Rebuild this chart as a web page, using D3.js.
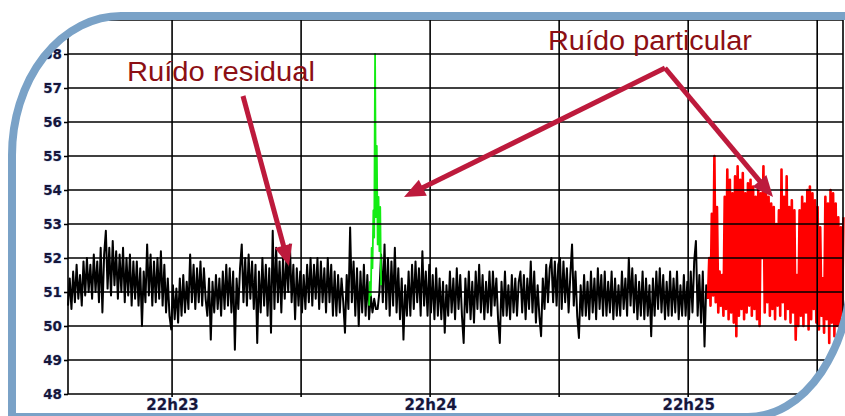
<!DOCTYPE html>
<html><head><meta charset="utf-8">
<script src="https://cdn.jsdelivr.net/npm/d3@7"></script>
<style>html,body{margin:0;padding:0;background:#fff;overflow:hidden}</style>
</head><body>
<svg id="chart" width="845" height="416"></svg>
<script>
// ---------- data ----------
const yTickValues = [48,49,50,51,52,53,54,55,56,57,58,59];
const xTickTimes  = ["22:23:00","22:24:00","22:25:00"];
const xTickLabels = ["22h23","22h24","22h25"];
const timeDomain  = ["22:22:35.8","22:25:36.0"];

// residual noise (black), one reading every 0.4 s
const residualStart = "22:22:35.8";
const residualStep = 0.4;
const residualValues = [
50.6,51.4,50.5,51.6,50.7,51.8,50.8,51.5,50.6,51.9,50.9,52.0,51.0,51.8,50.8,52.1,51.0,51.9,50.7,52.3,
50.4,52.1,52.8,51.1,52.3,50.9,52.5,51.2,52.2,50.8,52.1,51.0,52.3,50.7,52.0,50.9,52.1,50.6,51.9,50.8,
51.9,50.6,51.7,50.0,51.6,50.7,52.4,50.9,52.1,50.6,51.9,50.7,52.0,50.8,52.2,50.6,51.8,50.4,51.4,50.3,
49.9,51.2,50.2,51.1,50.1,51.4,50.3,51.5,50.4,51.3,50.5,52.1,50.7,51.8,50.5,51.7,50.7,51.9,50.6,51.7,
50.8,50.3,51.4,49.6,51.3,50.4,51.5,50.5,51.4,50.3,51.6,50.5,51.8,50.6,51.7,50.4,51.6,49.3,51.4,50.5,
51.7,52.4,50.7,52.0,50.6,52.1,50.8,51.9,50.5,51.8,49.5,51.6,50.4,52.0,50.6,51.8,50.3,51.7,49.8,52.8,
50.5,52.3,50.7,51.9,50.4,52.0,50.8,52.1,51.0,52.4,50.7,51.8,50.2,51.7,50.6,51.6,50.4,51.5,50.5,51.8,
50.7,52.0,50.6,51.8,50.8,52.0,50.5,51.9,50.7,51.7,50.4,52.0,50.7,51.8,50.3,51.6,50.3,51.5,50.4,51.4,
50.7,49.8,51.5,50.5,52.9,50.7,51.9,50.3,51.7,50.0,51.6,50.4,51.8,50.3,51.5,50.2,50.9,50.4,50.8,50.5,
50.5,51.0,52.1,50.7,52.4,50.5,52.0,50.3,51.9,50.6,52.3,50.4,51.7,50.2,51.4,49.6,51.2,50.3,51.6,50.3,
51.8,50.5,51.9,50.7,51.7,50.3,52.2,50.6,51.6,50.3,51.8,50.4,51.5,50.2,51.7,50.3,51.4,50.2,51.3,49.8,
51.2,50.3,51.6,50.4,51.4,50.2,51.7,50.5,51.5,50.3,49.5,51.4,50.4,51.6,50.2,51.3,50.1,51.6,50.5,51.8,
50.4,51.5,50.2,51.3,50.4,51.6,50.3,51.6,50.6,51.4,50.2,49.5,51.3,50.3,51.6,50.3,51.2,50.2,51.5,50.4,
51.4,50.3,51.3,51.6,50.4,51.5,50.2,51.4,50.5,51.9,50.4,51.6,50.1,51.2,50.3,49.7,51.4,50.5,51.8,50.7,
51.7,52.0,50.7,51.9,50.6,51.8,52.0,50.5,51.9,50.7,51.7,50.4,51.5,52.4,50.6,51.6,50.3,49.65,51.2,50.3,
51.5,50.3,51.3,50.2,51.6,50.4,51.4,50.2,51.7,50.5,51.5,50.3,51.6,50.3,51.3,50.4,51.6,50.2,51.4,50.3,
51.2,50.3,51.6,50.5,51.4,50.3,52.0,50.6,51.7,50.4,51.5,50.2,51.3,50.3,51.6,50.2,51.4,50.3,51.2,49.7,
51.4,50.3,51.6,50.5,51.7,50.4,51.5,50.2,51.3,50.3,51.6,50.3,51.4,50.4,51.6,50.2,51.2,50.3,51.5,50.3,
51.3,50.2,51.6,50.4,51.9,52.5,50.3,51.5,50.1,51.6,49.4,51.2,50.8
];

// particular noise, short event (green), one reading every 0.2 s
const greenStart = "22:23:45.8";
const greenStep = 0.2;
const greenValues = [50.6,51.3,50.9,52.3,51.7,53.4,52.6,58.0,53.2,55.3,52.4,53.8,52.2,53.5,51.2];

// particular noise, long event (red), one reading every 0.3 s
const redStart = "22:25:04.6";
const redStep = 0.3;
const redValues = [
50.8,52.0,50.6,53.3,50.9,55.0,50.7,53.5,50.4,51.6,50.6,51.5,50.3,53.8,50.5,54.6,50.2,54.3,50.4,53.9,
50.1,54.4,49.7,54.7,50.3,54.3,50.5,54.5,50.2,53.9,50.4,54.2,50.6,54.3,50.3,54.1,50.5,53.8,50.2,54.0,
50.0,53.9,52.0,54.7,50.4,54.0,50.7,53.8,50.3,53.6,50.5,53.5,50.2,53.0,50.6,53.4,50.3,54.6,50.7,53.8,
50.2,54.4,50.5,53.5,50.1,53.7,50.4,53.4,49.6,51.5,50.0,53.4,50.3,53.8,50.0,53.6,50.4,54.0,49.9,54.1,
50.2,53.9,50.5,53.7,50.1,53.5,49.9,52.9,50.3,51.4,49.8,53.8,50.2,53.6,49.5,54.0,50.1,53.9,49.7,53.6,
50.0,53.2,49.6,52.9,50.3,53.2
];

const annotationTexts = ["Ruído residual","Ruído particular"];

// ---------- helpers ----------
function parseT(s){
  const [h,m,sec] = s.split(":");
  return new Date(2000,0,1,+h,+m,0,Math.round(parseFloat(sec)*1000));
}
function toSeries(start, step, values){
  const t0 = parseT(start).getTime();
  return values.map((v,i)=>({t:new Date(t0 + Math.round(i*step*1000)), v}));
}

const svg = d3.select("#chart");
const W = 845, H = 416;
svg.append("rect").attr("width",W).attr("height",H).attr("fill","#fff");

const x = d3.scaleTime().domain(timeDomain.map(parseT)).range([68,843]);
const y = d3.scaleLinear().domain([48,59]).range([394,20]);

// frame shape (center line of blue band)
const framePath = "M121,16 H852 V263 A104 154 0 0 1 748 417 H12 V155 A109 139 0 0 1 121 16 Z";
const defs = svg.append("defs");
defs.append("clipPath").attr("id","frameClip").append("path").attr("d",framePath);

const g = svg.append("g").attr("clip-path","url(#frameClip)");

const line = d3.line().x(d=>x(d.t)).y(d=>y(d.v));

// data
g.append("path").datum(toSeries(residualStart,residualStep,residualValues))
  .attr("d",line).attr("fill","none").attr("stroke","#000").attr("stroke-width",2.0).attr("stroke-linejoin","round");
g.append("path").datum(toSeries(greenStart,greenStep,greenValues))
  .attr("d",line).attr("fill","none").attr("stroke","#13ec13").attr("stroke-width",1.8).attr("stroke-linejoin","round");
g.append("path").datum(toSeries(redStart,redStep,redValues))
  .attr("d",line).attr("fill","none").attr("stroke","#ff0000").attr("stroke-width",2.6).attr("stroke-linejoin","round");

// grid
const [x0,x1] = x.range(), [yb,yt] = y.range();
g.append("g").selectAll("line").data(yTickValues).join("line")
  .attr("x1",x0).attr("x2",x1).attr("y1",d=>y(d)).attr("y2",d=>y(d))
  .attr("stroke","#000").attr("stroke-width",1.6);
const vTimes = x.ticks(d3.timeSecond.every(30));
g.append("g").selectAll("line").data(vTimes).join("line")
  .attr("x1",d=>x(d)).attr("x2",d=>x(d)).attr("y1",yt).attr("y2",yb+3)
  .attr("stroke","#000").attr("stroke-width",1.6);
g.append("g").selectAll("line").data(x.domain()).join("line")
  .attr("x1",d=>x(d)).attr("x2",d=>x(d)).attr("y1",yt).attr("y2",yb)
  .attr("stroke","#000").attr("stroke-width",1.6);

// axes
const tickColor = "#16163a";
const yAxis = g.append("g").attr("transform",`translate(${x0},0)`)
  .call(d3.axisLeft(y).tickValues(yTickValues).tickSize(4).tickPadding(2).tickFormat(d3.format("d")));
yAxis.select(".domain").remove();
yAxis.selectAll("line").attr("stroke","#000").attr("stroke-width",1.6);
yAxis.selectAll("text").attr("fill",tickColor).attr("font-family","DejaVu Sans, Verdana, sans-serif")
  .attr("font-weight","bold").attr("font-size","13.5px")
  .attr("stroke","rgba(90,120,200,0.35)").attr("stroke-width",1).attr("paint-order","stroke");

const xAxis = g.append("g").attr("transform",`translate(0,${yb})`)
  .call(d3.axisBottom(x).tickValues(xTickTimes.map(parseT)).tickSize(0).tickPadding(5)
    .tickFormat((d,i)=>xTickLabels[i]));
xAxis.select(".domain").remove();
xAxis.selectAll("text").attr("fill",tickColor).attr("font-family","DejaVu Sans, Verdana, sans-serif")
  .attr("font-weight","bold").attr("font-size","15px")
  .attr("stroke","rgba(90,120,200,0.35)").attr("stroke-width",1).attr("paint-order","stroke");

// frame band
svg.append("path").attr("d",framePath).attr("fill","none").attr("stroke","#7aa2c7").attr("stroke-width",8);

// annotations
const ann = svg.append("g");
const textColor = "#8c0f14", arrowColor = "#bd1a3c";
ann.append("text").attr("x",127).attr("y",81).text(annotationTexts[0])
  .attr("font-family","Liberation Sans, Arial, sans-serif").attr("font-size","27px")
  .attr("fill",textColor).attr("textLength",188).attr("lengthAdjust","spacingAndGlyphs");
ann.append("text").attr("x",548).attr("y",50).text(annotationTexts[1])
  .attr("font-family","Liberation Sans, Arial, sans-serif").attr("font-size","27px")
  .attr("fill",textColor).attr("textLength",204).attr("lengthAdjust","spacingAndGlyphs");

function arrow(xa,ya,xb,yb2){
  const L=21, Wd=9;
  const dx=xb-xa, dy=yb2-ya, len=Math.hypot(dx,dy), ux=dx/len, uy=dy/len;
  const bx=xb-ux*L, by=yb2-uy*L;
  ann.append("line").attr("x1",xa).attr("y1",ya).attr("x2",bx+ux*2).attr("y2",by+uy*2)
    .attr("stroke",arrowColor).attr("stroke-width",5);
  ann.append("polygon").attr("points",
    `${xb},${yb2} ${bx-uy*Wd},${by+ux*Wd} ${bx+uy*Wd},${by-ux*Wd}`).attr("fill",arrowColor);
}
arrow(243,96,289,266);
arrow(665,68,404,197);
arrow(665,68,773,197);
</script>
</body></html>
